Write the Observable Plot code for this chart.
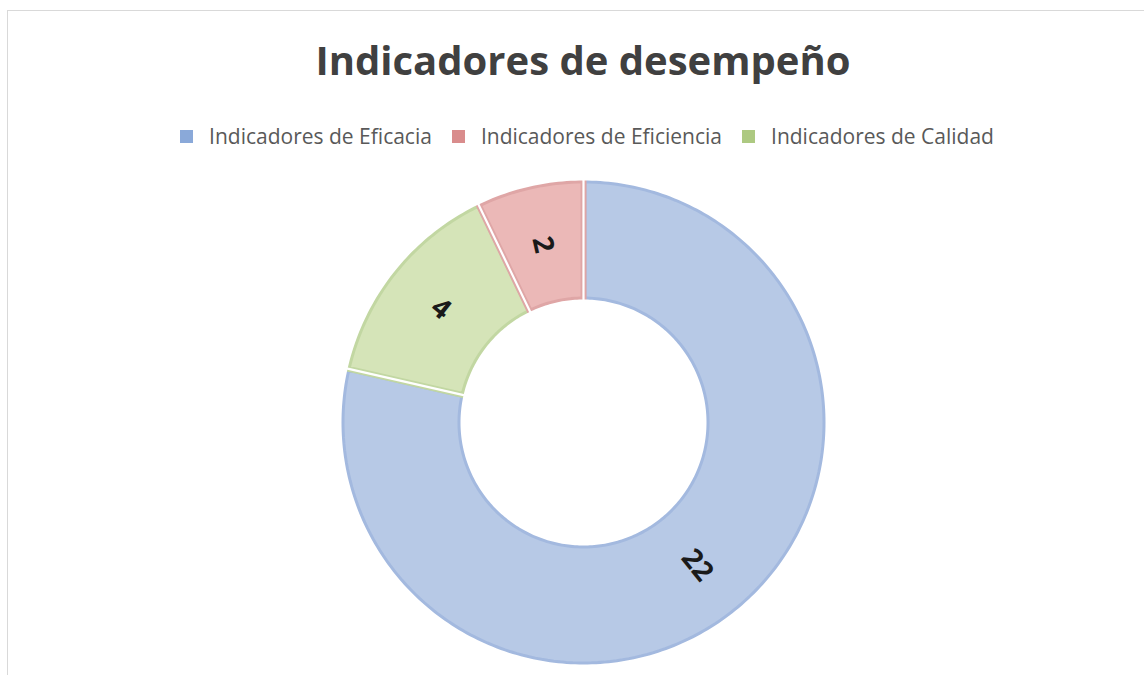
<!DOCTYPE html>
<html>
<head>
<meta charset="utf-8">
<script src="https://cdn.jsdelivr.net/npm/d3@7"></script>
<script src="https://cdn.jsdelivr.net/npm/@observablehq/plot@0.6"></script>
<style>
  html, body { margin: 0; padding: 0; background: #fff; width: 1144px; height: 675px; overflow: hidden; }
  #frame { position: absolute; left: 7px; top: 10px; width: 1200px; height: 720px; border: 1px solid #d9d9d9; box-sizing: border-box; }
  #title { position: absolute; left: 0; top: 33px; width: 1166px; text-align: center; font-family: "Open Sans", sans-serif; font-weight: 700; font-size: 40px; color: #404040; line-height: 54px; }
  #legend { position: absolute; left: 0; top: 121px; width: 1174px; display: flex; justify-content: center; font-family: "Open Sans", sans-serif; font-size: 21px; color: #595959; line-height: 30px; }
  .item { display: flex; align-items: center; margin: 0 10px; }
  .sw { width: 13px; height: 13px; margin-right: 16px; }
  #chart { position: absolute; left: 0; top: 160px; }
</style>
</head>
<body>
<div id="frame"></div>
<div id="title"></div>
<div id="legend"></div>
<div id="chart"></div>
<script>
const title = "Indicadores de desempeño";
const categories = ["Indicadores de Eficacia", "Indicadores de Eficiencia", "Indicadores de Calidad"];
const values = [22, 2, 4];
const legendColors = ["#8aa9d9", "#d98c8c", "#adc981"];
const sliceFills = ["#b7c9e6", "#ebb8b7", "#d5e4b8"];
const sliceEdges = ["#a3b9df", "#dfa6a6", "#c2d7a2"];
const clockwiseOrder = [0, 2, 1]; // drawing order from 12 o'clock, clockwise

document.getElementById("title").textContent = title;
const legend = document.getElementById("legend");
categories.forEach((c, i) => {
  const it = document.createElement("div");
  it.className = "item";
  it.innerHTML = `<div class="sw" style="background:${legendColors[i]}"></div><span>${c}</span>`;
  legend.appendChild(it);
});

const W = 1144, H = 515, R = 242, CX = 583, CY = 262;
const innerRatio = 123 / 242;
const total = d3.sum(values);

let acc = 0;
const slices = clockwiseOrder.map(i => {
  const a0 = acc / total * 2 * Math.PI;
  acc += values[i];
  const a1 = acc / total * 2 * Math.PI;
  return {i, a0, a1, value: values[i], name: categories[i]};
});

const pts = [];
slices.forEach(s => {
  const n = Math.max(8, Math.ceil((s.a1 - s.a0) / (2 * Math.PI) * 240));
  const ring = [];
  for (let k = 0; k <= n; k++) { const a = s.a0 + (s.a1 - s.a0) * k / n; ring.push([Math.sin(a), Math.cos(a)]); }
  for (let k = n; k >= 0; k--) { const a = s.a0 + (s.a1 - s.a0) * k / n; ring.push([innerRatio * Math.sin(a), innerRatio * Math.cos(a)]); }
  ring.push(ring[0]);
  ring.forEach(([x, y]) => pts.push({key: s.name, x, y, fill: sliceFills[s.i], edge: sliceEdges[s.i]}));
});

const px = 1 / R;
const circ = (r, key) => d3.range(0, 361).map(d => ({key, x: r * Math.sin(d * Math.PI / 180), y: r * Math.cos(d * Math.PI / 180)}));
const outerMask = circ(1 + 3 * px, "outer");
const innerMask = circ(innerRatio - 3 * px, "inner");
const seps = [];
slices.forEach((s, j) => {
  seps.push({key: "s" + j, x: innerRatio * Math.sin(s.a0), y: innerRatio * Math.cos(s.a0)});
  seps.push({key: "s" + j, x: Math.sin(s.a0), y: Math.cos(s.a0)});
});

const midR = (1 + innerRatio) / 2;
const labels = slices.map(s => {
  const m = (s.a0 + s.a1) / 2;
  let rot = (m * 180 / Math.PI + 90) % 180;
  if (rot > 90) rot -= 180;
  return {x: midR * Math.sin(m), y: midR * Math.cos(m), text: String(s.value), rot};
});

const plot = Plot.plot({
  width: W, height: H,
  margin: 0,
  x: {domain: [-CX / R, (W - CX) / R], axis: null},
  y: {domain: [-(H - CY) / R, CY / R], axis: null},
  color: {type: "identity"},
  marks: [
    Plot.line(pts, {x: "x", y: "y", z: "key", fill: "fill", stroke: "edge", strokeWidth: 6, strokeLinejoin: "round", curve: "linear"}),
    Plot.line(outerMask, {x: "x", y: "y", z: "key", stroke: "white", strokeWidth: 6}),
    Plot.line(innerMask, {x: "x", y: "y", z: "key", stroke: "white", strokeWidth: 6}),
    Plot.line(seps, {x: "x", y: "y", z: "key", stroke: "white", strokeWidth: 2.2}),
    Plot.text(labels, {x: "x", y: "y", text: "text", rotate: "rot", fontSize: 28, fontWeight: 700, fill: "#1a1a1a", fontFamily: "Open Sans, sans-serif"})
  ]
});
document.getElementById("chart").appendChild(plot);
</script>
</body>
</html>
